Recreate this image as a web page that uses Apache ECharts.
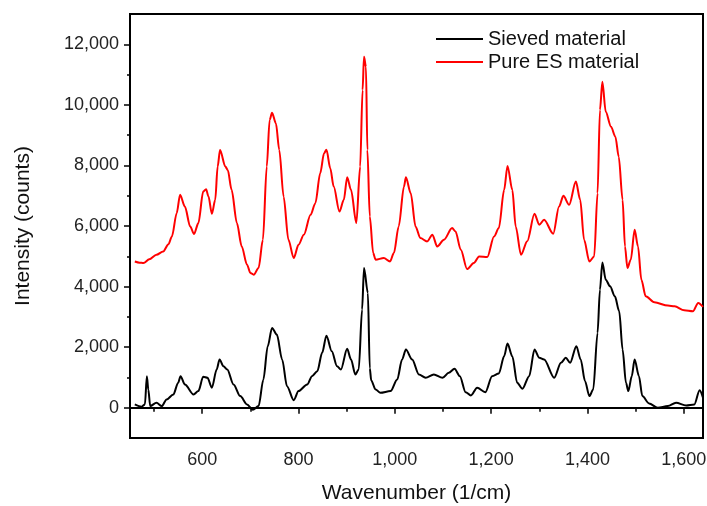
<!DOCTYPE html>
<html>
<head>
<meta charset="utf-8">
<title>Raman spectra</title>
<script src="https://cdn.jsdelivr.net/npm/echarts@6.0.0/dist/echarts.min.js"></script>
<style>
html,body{margin:0;padding:0;background:#fff;}
#chart{width:707px;height:506px;}
</style>
</head>
<body>
<div id="chart"></div>
<script>
// 数据: 点
var seriesNames = ['Sieved material', 'Pure ES material'];

var sievedWavenumber = [460,474,481,485,488,492,505,516,526,540,550,555,564,582,592,602,611,620,630,636,
	644,652,665,679,693,705,717,727,736,745,755,766,776,790,800,818,828,839,849,858,
	869,880,888,901,909,918,925,932,936,944,948,951,960,970,991,1005,1015,1023,1036,1050,
	1064,1081,1099,1112,1124,1135,1147,1158,1171,1188,1202,1216,1227,1234,1244,1254,1265,1279,1290,1300,
	1310,1331,1345,1355,1364,1377,1386,1395,1404,1412,1421,1426,1431,1438,1447,1457,1466,1473,1480,1485,
	1492,1498,1507,1514,1528,1546,1567,1584,1605,1622,1633,1640];
var sievedCounts = [109,33,109,1041,603,53,165,53,273,438,824,1041,768,438,548,1021,988,659,1262,1591,
	1371,1262,768,383,109,-70,53,932,2030,2636,2415,1591,712,250,548,768,1041,1206,1812,2380,
	1865,1371,1262,1944,1591,1097,1262,3239,4613,3789,1300,900,603,494,548,932,1591,1921,1591,1097,
	988,1097,988,1153,1285,1041,514,405,659,514,1041,1130,1700,2119,1700,824,626,1041,1921,1647,
	1591,988,1483,1647,1483,2030,1591,876,383,603,2471,3898,4798,4227,4007,3677,3183,1921,824,548,
	1041,1591,1041,383,142,0,53,165,76,109,580,330];

var pureWavenumber = [460,470,478,490,505,519,530,537,547,554,564,575,583,592,602,608,613,620,627,632,
	637,648,653,661,672,682,693,700,707,717,726,734,740,745,753,760,769,779,790,800,
	811,825,835,845,853,858,866,873,885,894,901,909,920,928,933,936,940,943,948,955,
	960,977,990,998,1008,1019,1023,1033,1043,1053,1067,1078,1088,1102,1119,1126,1137,1150,1164,1175,
	1192,1206,1216,1227,1234,1244,1251,1262,1275,1290,1300,1310,1329,1341,1350,1362,1376,1385,1393,1404,
	1414,1421,1426,1431,1438,1449,1458,1465,1473,1478,1483,1490,1498,1505,1512,1521,1539,1567,1581,1601,
	1619,1630,1640];
var pureCounts = [4830,4790,4778,4900,5050,5160,5400,5655,6425,7030,6643,5984,5733,6096,7137,7215,6972,6402,6863,7961,
	8511,7961,7852,7193,6096,5325,4722,4450,4392,4613,5546,7961,9500,9740,9390,8511,6972,5546,4942,5381,
	5710,6369,6755,7743,8400,8520,7900,7302,6478,6863,7611,7193,6096,7961,10488,11585,11256,8511,6313,5107,
	4887,4942,4830,5107,5984,7302,7611,7084,5984,5601,5490,5710,5325,5546,5931,5819,5216,4580,4778,4995,
	4975,5655,5931,7193,7984,7193,5984,5051,5500,6402,6040,6205,5743,6643,6995,6699,7466,6863,5546,4830,
	4995,7084,9829,10762,9773,9279,8949,8290,6863,5325,4613,4887,5875,5325,4227,3677,3480,3371,3348,3216,
	3183,3460,3328];

// 刻度
var xMajorTicks = [600,800,1000,1200,1400,1600];
var xMinorTicks = [500,700,900,1100,1300,1500];
var yMajorTicks = [0,2000,4000,6000,8000,10000,12000];
var yMinorTicks = [1000,3000,5000,7000,9000,11000];

var fontName = '"Liberation Sans", Arial, sans-serif';

function toPairs(xs, ys){
	var out = [];
	for (var i = 0; i < xs.length; i++) {
		out.push([xs[i], ys[i]]);
	}
	return out;
}

function thousands(v){
	return Number(v).toLocaleString('en-US');
}

var chart = echarts.init(document.getElementById('chart'));

var option = {
	animation: false,
	backgroundColor: '#fff',
	grid: {
		left: 130,
		right: 4,
		top: 14,
		bottom: 68,
		containLabel: false,
		outerBoundsMode: 'none',
		show: true,
		borderColor: '#000',
		borderWidth: 2
	},
	legend: {
		data: seriesNames,
		orient: 'vertical',
		left: 431,
		top: 24,
		itemWidth: 47,
		itemHeight: 2,
		itemGap: 3,
		icon: 'rect',
		textStyle: {
			fontFamily: fontName,
			fontSize: 20,
			lineHeight: 20,
			color: '#111'
		}
	},
	xAxis: [{
		type: 'value',
		min: 450,
		max: 1640,
		name: 'Wavenumber (1/cm)',
		nameLocation: 'middle',
		nameGap: 45,
		nameTextStyle: {fontFamily: fontName, fontSize: 21, color: '#111'},
		axisLine: {show: true, lineStyle: {color: '#000', width: 2}},
		axisTick: {show: true, length: 6, lineStyle: {color: '#000', width: 1.5}, customValues: xMajorTicks},
		axisLabel: {
			fontFamily: fontName, fontSize: 18, color: '#222', margin: 13,
			customValues: xMajorTicks,
			formatter: thousands
		},
		splitLine: {show: false}
	}, {
		type: 'value',
		min: 450,
		max: 1640,
		position: 'bottom',
		axisLine: {show: false},
		axisTick: {show: true, length: 4, lineStyle: {color: '#000', width: 1.5}, customValues: xMinorTicks},
		axisLabel: {show: false},
		splitLine: {show: false}
	}],
	yAxis: [{
		type: 'value',
		min: -1000,
		max: 13000,
		name: 'Intensity (counts)',
		nameLocation: 'middle',
		nameGap: 96,
		nameTextStyle: {fontFamily: fontName, fontSize: 21, color: '#111'},
		axisLine: {show: true, lineStyle: {color: '#000', width: 2}},
		axisTick: {show: true, length: 6, lineStyle: {color: '#000', width: 1.5}, customValues: yMajorTicks},
		axisLabel: {
			fontFamily: fontName, fontSize: 18, color: '#222', margin: 11,
			customValues: yMajorTicks,
			formatter: thousands
		},
		splitLine: {show: false}
	}, {
		type: 'value',
		min: -1000,
		max: 13000,
		position: 'left',
		axisLine: {show: false},
		axisTick: {show: true, length: 3, lineStyle: {color: '#000', width: 1.5}, customValues: yMinorTicks},
		axisLabel: {show: false},
		splitLine: {show: false}
	}],
	series: [{
		name: seriesNames[0],
		type: 'line',
		showSymbol: false,
		smooth: 0.3,
		smoothMonotone: 'x',
		color: '#000',
		lineStyle: {color: '#000', width: 2},
		data: toPairs(sievedWavenumber, sievedCounts)
	}, {
		name: seriesNames[1],
		type: 'line',
		showSymbol: false,
		smooth: 0.3,
		smoothMonotone: 'x',
		color: '#ff0000',
		lineStyle: {color: '#ff0000', width: 2},
		data: toPairs(pureWavenumber, pureCounts)
	}]
};

chart.setOption(option);
</script>
</body>
</html>
